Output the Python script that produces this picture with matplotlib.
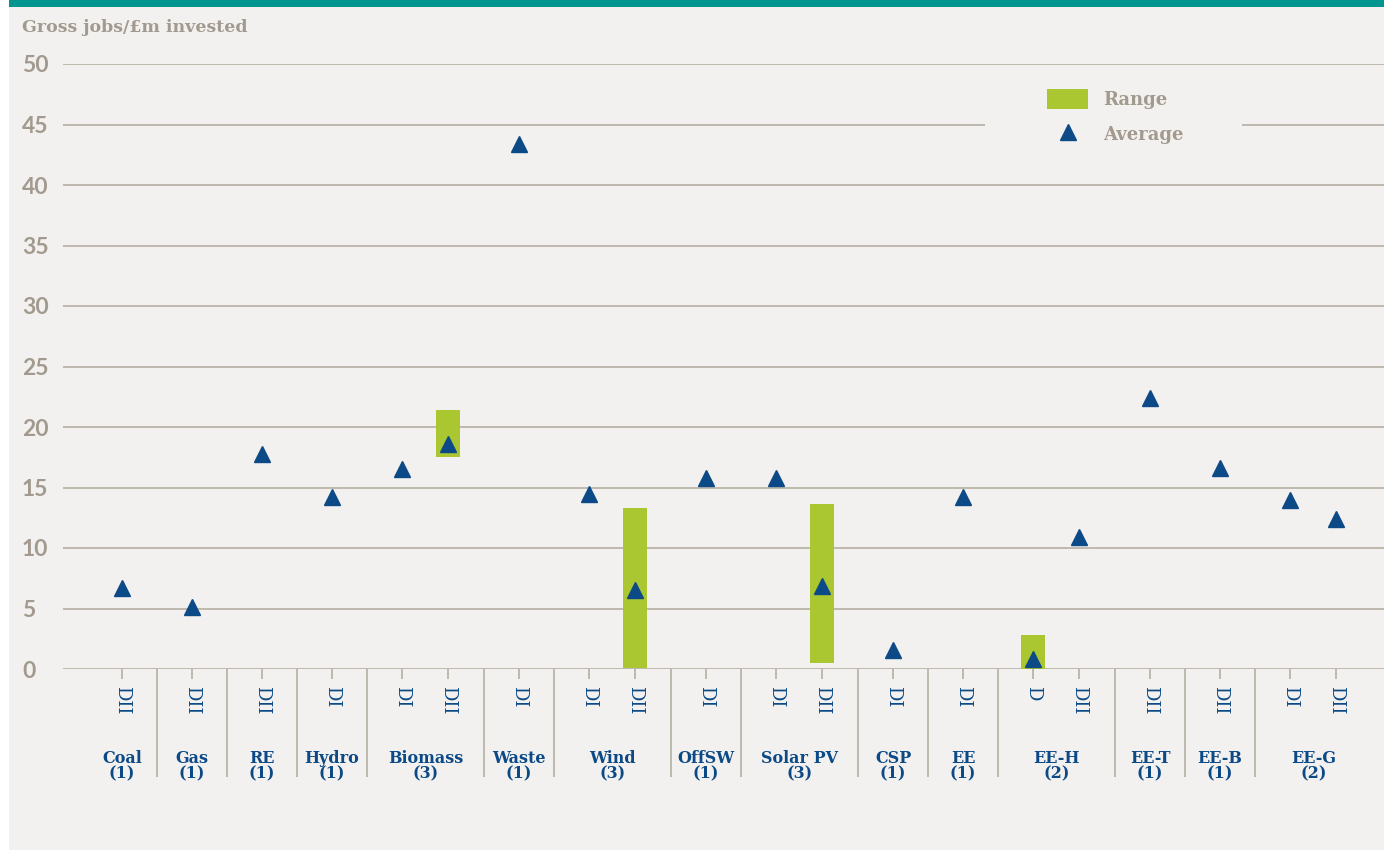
import matplotlib
matplotlib.use("Agg")
import matplotlib.pyplot as plt
from matplotlib.lines import Line2D
from matplotlib.patches import Patch, Rectangle

# Data
groups = ["Coal", "Gas", "RE", "Hydro", "Biomass", "Waste", "Wind", "OffSW",
          "Solar PV", "CSP", "EE", "EE-H", "EE-T", "EE-B", "EE-G"]
group_counts = [1, 1, 1, 1, 3, 1, 3, 1, 3, 1, 1, 2, 1, 1, 2]
group_items = [["DII"], ["DII"], ["DII"], ["DI"], ["DI", "DII"], ["DI"],
               ["DI", "DII"], ["DI"], ["DI", "DII"], ["DI"], ["DI"],
               ["D", "DII"], ["DII"], ["DII"], ["DI", "DII"]]
averages = [6.7, 5.1, 17.8, 14.2, 16.5, 18.6, 43.4, 14.5, 6.5, 15.8,
            15.8, 6.9, 1.6, 14.2, 0.8, 10.9, 22.4, 16.6, 14.0, 12.4]
range_low = [None, None, None, None, None, 17.5, None, None, 0.1, None,
             None, 0.5, None, None, 0.0, None, None, None, None, None]
range_high = [None, None, None, None, None, 21.4, None, None, 13.3, None,
              None, 13.6, None, None, 2.8, None, None, None, None, None]

BG = "#f3f1ef"
TEAL = "#00968f"
GRID = "#b1a99e"
GREY_TXT = "#a39a8f"
BLUE = "#0b4a86"
GREEN = "#aac631"

W, H = 1384, 850
fig = plt.figure(figsize=(W / 100, H / 100), dpi=100, facecolor=BG)
ax = fig.add_axes([63 / W, 1 - 669 / H, (W - 63) / W, 605 / H])
ax.set_facecolor(BG)

# layout of groups: single-item group = 1 unit, two-item group wider
single_w, double_w = 1.0, 117 / 70
item_gap = 46 / 70
x_items, labels, separators, group_centers = [], [], [], []
pos = 0.0
for g, items in enumerate(group_items):
    w = single_w if len(items) == 1 else double_w
    for k, lab in enumerate(items):
        x_items.append(pos + 0.5 + k * item_gap)
        labels.append(lab)
    group_centers.append(pos + w / 2)
    pos += w
    if g < len(group_items) - 1:
        separators.append(pos)

# range bars
for x, lo, hi in zip(x_items, range_low, range_high):
    if lo is not None:
        ax.bar(x, hi - lo, bottom=lo, width=24 / 70, color=GREEN, zorder=2)

# averages
ax.plot(x_items, averages, linestyle="none", marker="^", markersize=12,
        color=BLUE, zorder=3, clip_on=False)

ax.set_xlim(-24 / 70, (W - 87) / 70)
ax.set_ylim(0, 50)
ax.set_yticks(range(0, 51, 5))
ax.set_axisbelow(True)
ax.yaxis.grid(True, color=GRID, linewidth=1.1)
for s in ax.spines.values():
    s.set_visible(False)

ax.tick_params(axis="y", length=0, pad=29.5, labelsize=16.5, labelcolor=GREY_TXT)
for t in ax.get_yticklabels():
    t.set_horizontalalignment("left")
    t.set_fontfamily("Lato")
    t.set_fontweight("bold")

ax.set_xticks(x_items)
ax.set_xticklabels(labels, rotation=270, fontsize=13, color=BLUE,
                   family="DejaVu Serif")
ax.tick_params(axis="x", direction="out", length=7.5, width=1.1,
               color=GRID, pad=5)

# group separators and names
trans = ax.get_xaxis_transform()
ax.vlines(separators, -108 / 605, 0, transform=trans, color=GRID,
          linewidth=1.1, clip_on=False)
for xc, name, n in zip(group_centers, groups, group_counts):
    ax.text(xc, -97 / 605, f"{name}\n({n})", transform=trans, ha="center",
            va="center", fontsize=11.5, fontweight="bold", color=BLUE,
            family="DejaVu Serif", linespacing=0.92, multialignment="center")

# y axis title
fig.text(22 / W, 1 - 27 / H, "Gross jobs/£m invested", ha="left", va="center",
         fontsize=12.5, fontweight="bold", color=GREY_TXT, family="DejaVu Serif")

# legend, with a background block hiding the gridline behind it
ax.add_patch(Rectangle(((985 - 63) / 1321, 0.885), (1242 - 985) / 1321, 0.03,
                       transform=ax.transAxes, facecolor=BG, edgecolor="none",
                       zorder=1))
handles = [Patch(facecolor=GREEN, edgecolor="none", label="Range"),
           Line2D([], [], linestyle="none", marker="^", markersize=12,
                  color=BLUE, label="Average")]
leg = ax.legend(handles=handles, loc="upper left", frameon=False,
                bbox_to_anchor=(1047 / W, 1 - 89 / H),
                bbox_transform=fig.transFigure, borderpad=0, borderaxespad=0,
                handlelength=2.28, handleheight=1.33, handletextpad=0.83,
                labelspacing=0.83,
                prop={"family": "DejaVu Serif", "size": 13, "weight": "bold"})
for t in leg.get_texts():
    t.set_color(GREY_TXT)

# top teal band and white strip on the left
fig.patches.append(Rectangle((9 / W, 1 - 7 / H), 1, 7 / H, transform=fig.transFigure,
                             facecolor=TEAL, edgecolor="none"))
fig.patches.append(Rectangle((0, 0), 9 / W, 1, transform=fig.transFigure,
                             facecolor="white", edgecolor="none"))

fig.savefig("out.png", dpi=100, facecolor=BG)
